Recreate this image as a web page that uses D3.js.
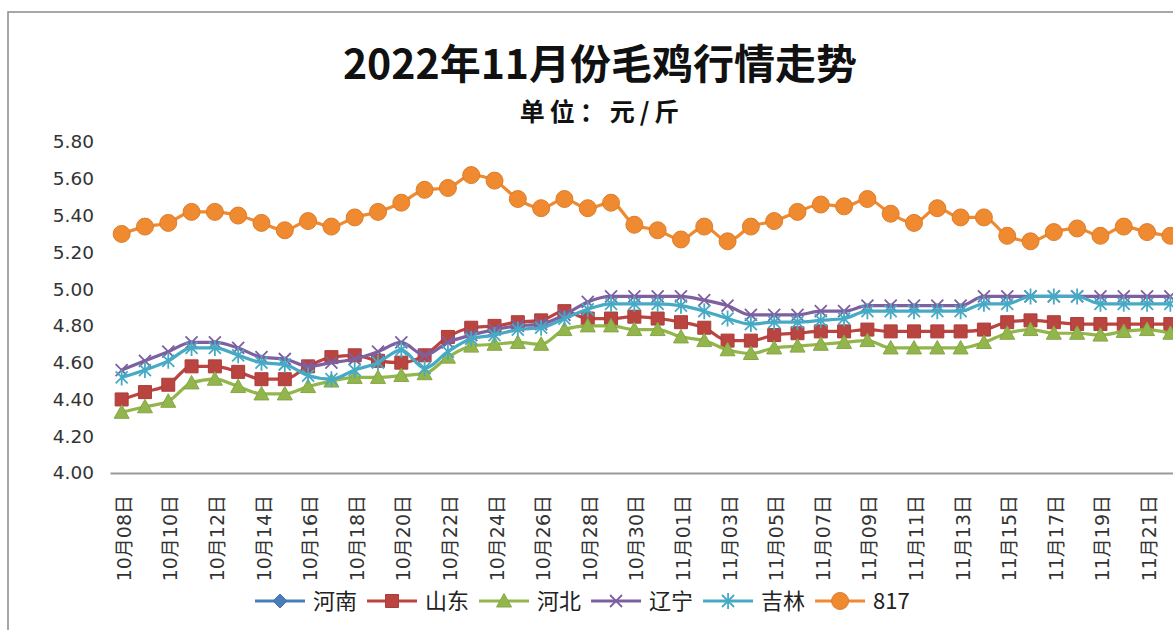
<!DOCTYPE html>
<html><head><meta charset="utf-8">
<script src="https://cdn.jsdelivr.net/npm/d3@7"></script>
<style>body{margin:0;background:#fff;} svg{display:block}</style>
</head><body><svg id="c" width="1173" height="630"></svg>
<script>
const categories = ["10月08日","10月09日","10月10日","10月11日","10月12日","10月13日","10月14日","10月15日","10月16日","10月17日",
"10月18日","10月19日","10月20日","10月21日","10月22日","10月23日","10月24日","10月25日","10月26日","10月27日",
"10月28日","10月29日","10月30日","10月31日",
"11月01日","11月02日","11月03日","11月04日","11月05日","11月06日","11月07日","11月08日","11月09日","11月10日",
"11月11日","11月12日","11月13日","11月14日","11月15日","11月16日","11月17日","11月18日","11月19日","11月20日",
"11月21日","11月22日"];
const yTicks = [4.00,4.20,4.40,4.60,4.80,5.00,5.20,5.40,5.60,5.80];
const seriesNames = ["河南","山东","河北","辽宁","吉林","817"];
// 河南: no line is visible in the picture
const henan = [];
const shandong = [4.40,4.44,4.48,4.58,4.58,4.55,4.51,4.51,4.58,4.63,4.64,4.61,4.60,4.64,4.74,4.79,4.80,4.82,4.83,4.88,4.84,4.84,4.85,4.84,
4.82,4.79,4.72,4.72,4.75,4.76,4.77,4.77,4.78,4.77,4.77,4.77,4.77,4.78,4.82,4.83,4.82,4.81,4.81,4.81,4.81,4.81];
const hebei = [4.33,4.36,4.39,4.49,4.51,4.47,4.43,4.43,4.47,4.50,4.52,4.52,4.53,4.54,4.63,4.69,4.70,4.71,4.70,4.78,4.80,4.80,4.78,4.78,
4.74,4.72,4.67,4.65,4.68,4.69,4.70,4.71,4.72,4.68,4.68,4.68,4.68,4.71,4.76,4.78,4.76,4.76,4.75,4.77,4.78,4.76];
const liaoning = [4.56,4.61,4.66,4.71,4.71,4.68,4.63,4.62,4.58,4.60,4.62,4.66,4.71,4.64,4.71,4.75,4.78,4.80,4.81,4.86,4.93,4.96,4.96,4.96,
4.96,4.94,4.91,4.86,4.86,4.86,4.88,4.88,4.91,4.91,4.91,4.91,4.91,4.96,4.96,4.96,4.96,4.96,4.96,4.96,4.96,4.96];
const jilin = [4.52,4.56,4.61,4.68,4.68,4.64,4.60,4.59,4.53,4.51,4.56,4.60,4.67,4.57,4.66,4.73,4.75,4.78,4.79,4.84,4.89,4.92,4.92,4.92,
4.91,4.88,4.84,4.81,4.82,4.82,4.83,4.84,4.88,4.88,4.88,4.88,4.88,4.92,4.92,4.96,4.96,4.96,4.92,4.92,4.92,4.92];
const s817 = [5.30,5.34,5.36,5.42,5.42,5.40,5.36,5.32,5.37,5.34,5.39,5.42,5.47,5.54,5.55,5.62,5.59,5.49,5.44,5.49,5.44,5.47,5.35,5.32,
5.27,5.34,5.26,5.34,5.37,5.42,5.46,5.45,5.49,5.41,5.36,5.44,5.39,5.39,5.29,5.26,5.31,5.33,5.29,5.34,5.31,5.29];

const styles = [
  {color:"#4A7EBB", marker:"diamond"},
  {color:"#BA4440", marker:"square"},
  {color:"#93B64C", marker:"triangle"},
  {color:"#7D60A0", marker:"x"},
  {color:"#46AAC5", marker:"star"},
  {color:"#EF8A30", marker:"circle"}
];
const seriesData = [henan, shandong, hebei, liaoning, jilin, s817];

const svg = d3.select("#c");
svg.append("rect").attr("width",1173).attr("height",630).attr("fill","#fff");
svg.append("rect").attr("x",8).attr("y",12).attr("width",1300).attr("height",800)
  .attr("fill","none").attr("stroke","#8a8a8a").attr("stroke-width",1.5);

svg.append("text").attr("x",600).attr("y",79).attr("text-anchor","middle")
  .attr("font-family","'Noto Sans CJK SC', sans-serif").attr("font-weight","bold")
  .attr("font-size",41).attr("fill","#111").text("2022年11月份毛鸡行情走势");
svg.append("text").attr("x",602).attr("y",121).attr("text-anchor","middle")
  .attr("font-family","'Noto Sans CJK SC', sans-serif").attr("font-weight","bold")
  .attr("font-size",25).attr("letter-spacing",5).attr("fill","#111").text("单位：元/斤");

const x = d3.scalePoint().domain(categories).range([110, 1182]).padding(0.5);
const y = d3.scaleLinear().domain([4.0, 5.8]).range([473, 142]);

// y axis
const yAxis = svg.append("g").attr("transform","translate(110,0)")
  .call(d3.axisLeft(y).tickValues(yTicks).tickFormat(d3.format(".2f")).tickSize(0).tickPadding(16));
yAxis.select(".domain").remove();
yAxis.selectAll("text").attr("font-family","'DejaVu Sans', sans-serif").attr("font-size",18.5).attr("fill","#333");

// x axis
const xAxis = svg.append("g").attr("transform","translate(0,473)")
  .call(d3.axisBottom(x).tickValues(categories.filter((d,i)=>i%2===0)).tickSize(0));
xAxis.select(".domain").attr("stroke","#9a9a9a").attr("stroke-width",2);
xAxis.selectAll("text").attr("transform","rotate(-90)").attr("x",-22).attr("y",0).attr("dy","0.45em")
  .style("text-anchor","end").attr("font-family","'DejaVu Sans', 'Noto Sans CJK SC', sans-serif")
  .attr("font-size",19).attr("fill","#333");

function markerPath(type){
  switch(type){
    case "diamond": return "M0,-7L7,0L0,7L-7,0Z";
    case "square": return "M-6.5,-6.5H6.5V6.5H-6.5Z";
    case "triangle": return "M0,-7.5L7.5,6L-7.5,6Z";
    case "x": return "M-6,-6L6,6M-6,6L6,-6";
    case "star": return "M-6,-6L6,6M-6,6L6,-6M0,-8V8";
    case "circle": return "M8.5,0A8.5,8.5 0 1,1 -8.5,0A8.5,8.5 0 1,1 8.5,0Z";
  }
}
function drawMarker(g, type, color, cx, cy){
  const stroked = (type==="x"||type==="star");
  g.append("path").attr("d",markerPath(type)).attr("transform",`translate(${cx},${cy})`)
    .attr("fill", stroked ? "none" : color)
    .attr("stroke", stroked ? color : d3.color(color).darker(0.25))
    .attr("stroke-width", stroked ? 1.8 : 1);
}

const line = d3.line().x((d,i)=>x(categories[i])).y(d=>y(d)).curve(d3.curveMonotoneX);
seriesData.forEach((vals, si)=>{
  if(!vals.length) return;
  const st = styles[si];
  const g = svg.append("g");
  g.append("path").datum(vals).attr("d",line).attr("fill","none")
    .attr("stroke",st.color).attr("stroke-width",3.2).attr("stroke-linejoin","round");
  vals.forEach((v,i)=>drawMarker(g, st.marker, st.color, x(categories[i]), y(v)));
});

// legend
const lg = svg.append("g");
let lx = 255; const ly = 601;
seriesNames.forEach((name, si)=>{
  const st = styles[si];
  lg.append("line").attr("x1",lx).attr("x2",lx+50).attr("y1",ly).attr("y2",ly)
    .attr("stroke",st.color).attr("stroke-width",3);
  drawMarker(lg, st.marker, st.color, lx+25, ly);
  const t = lg.append("text").attr("x",lx+58).attr("y",ly).attr("dy","0.36em")
    .attr("font-family","'Noto Sans CJK SC', sans-serif").attr("font-size",22).attr("fill","#222").text(name);
  lx += 58 + t.node().getComputedTextLength() + 10;
});
</script></body></html>
